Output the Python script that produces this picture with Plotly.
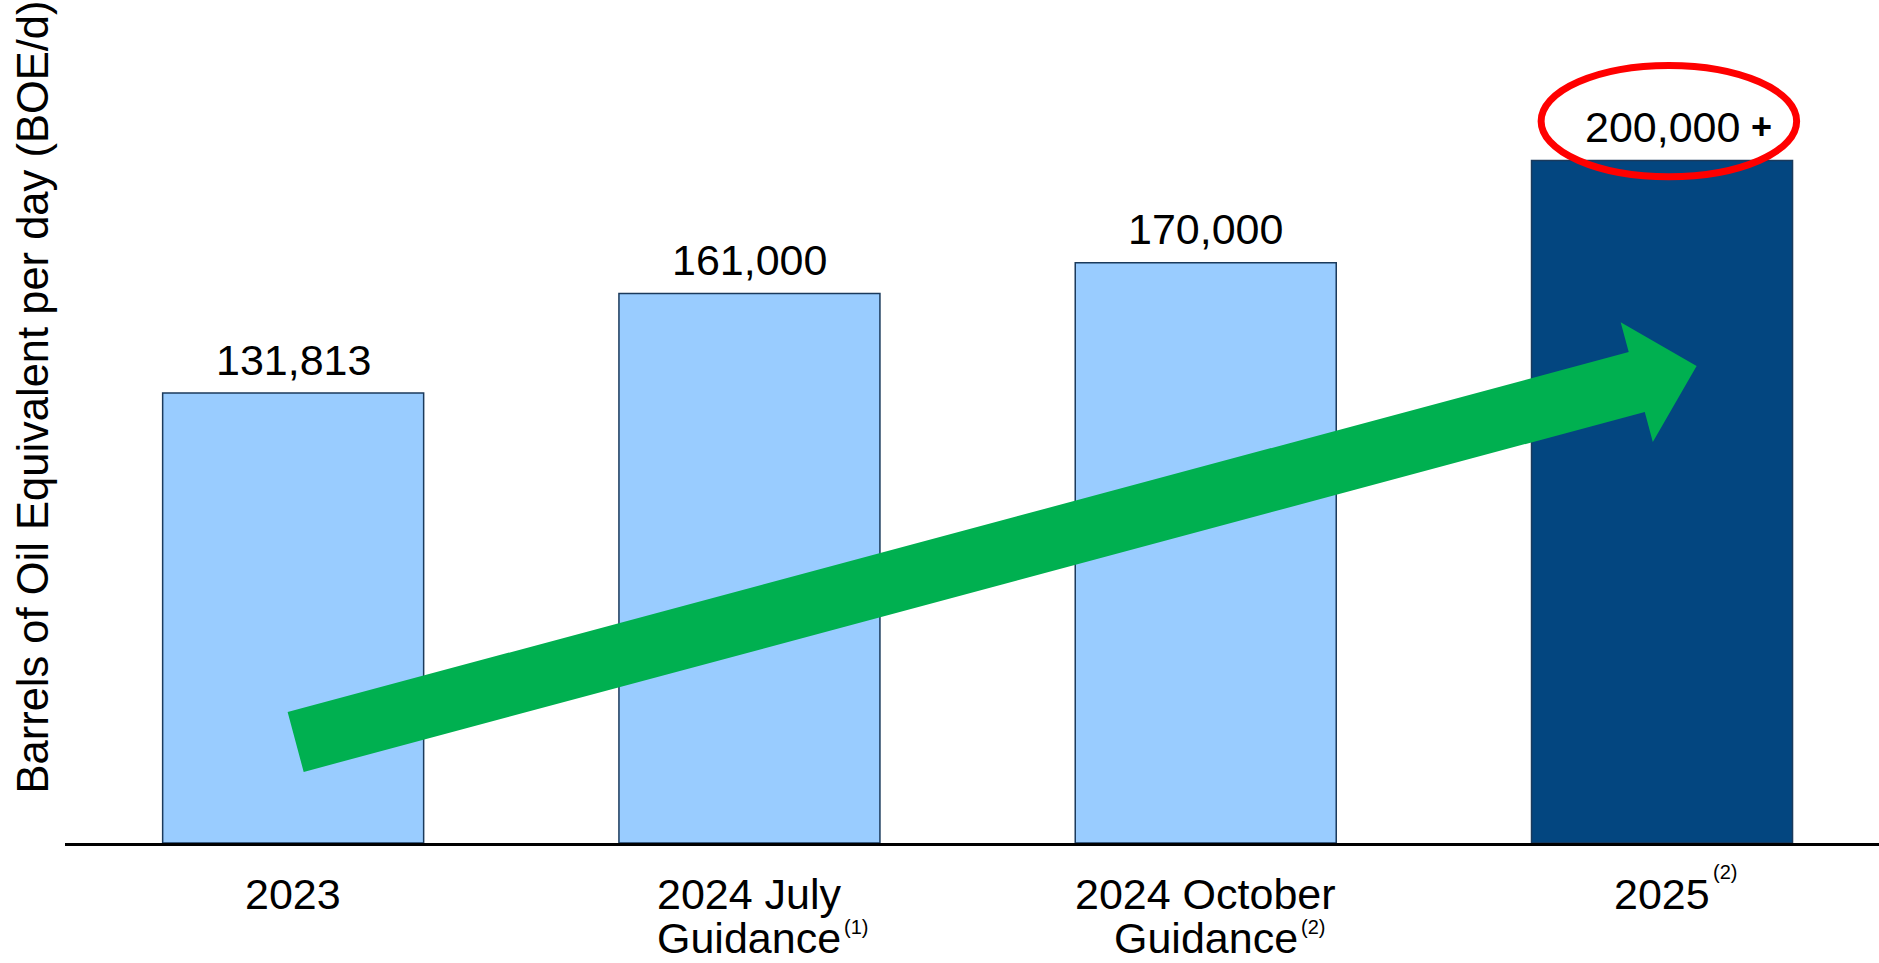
import math
import plotly.graph_objects as go

# ---------------- data ----------------
categories = ["2023", "2024 July Guidance", "2024 October Guidance", "2025"]
values = [131813, 161000, 170000, 200000]
value_labels = ["131,813", "161,000", "170,000", "200,000"]
value_suffix = ["", "", "", "+"]
label_line1 = ["2023", "2024 July", "2024 October", "2025"]
label_line2 = ["", "Guidance", "Guidance", ""]
footnotes = ["", "(1)", "(2)", "(2)"]
y_title = "Barrels of Oil Equivalent per day (BOE/d)"

# ---------------- style / layout ----------------
bar_colors = ["#99CCFF", "#99CCFF", "#99CCFF", "#034680"]
bar_line = "#1B3A5C"
arrow_color = "#00B050"
ring_color = "#FF0000"
FONT = "Liberation Sans, Arial, sans-serif"
FS = 43

W, H = 1879, 963
ML, MR, MT, MB = 65, 0, 58, 120
Y_MAX = 230000
X_MIN, X_MAX = -0.5, 3.4755
BAR_W = 0.572

plot_w = W - ML - MR
plot_h = H - MT - MB
px_per_x = plot_w / (X_MAX - X_MIN)
px_per_y = plot_h / Y_MAX

x = list(range(len(categories)))

# Liberation Sans (Arial metric) advance widths, em units
_W = {"0": .556, "1": .556, "2": .556, "3": .556, "4": .556, "5": .556, "6": .556,
      "7": .556, "8": .556, "9": .556, ",": .278, " ": .278, "J": .5, "u": .556,
      "l": .222, "y": .5, "O": .778, "c": .5, "t": .278, "o": .556, "b": .556,
      "e": .556, "r": .333, "G": .778, "i": .222, "d": .556, "a": .556, "n": .556}


def text_w(s, size):
    return sum(_W.get(ch, .556) for ch in s) * size


def d2p(xd, yd):
    return ML + (xd - X_MIN) * px_per_x, MT + plot_h - yd * px_per_y


def p2d(px, py):
    return X_MIN + (px - ML) / px_per_x, (MT + plot_h - py) / px_per_y


fig = go.Figure()
fig.add_trace(go.Bar(
    x=x, y=values, width=BAR_W,
    marker=dict(color=bar_colors, line=dict(color=bar_line, width=1.5)),
    hoverinfo="skip",
))

ann = []
# value labels
for i, v in enumerate(values):
    ann.append(dict(x=x[i], y=v, xref="x", yref="y", text=value_labels[i],
                    showarrow=False, yanchor="middle", xanchor="center", yshift=33.5,
                    font=dict(family=FONT, size=FS, color="black")))
    if value_suffix[i]:
        ann.append(dict(x=x[i], y=v, xref="x", yref="y",
                        text="<b>" + value_suffix[i] + "</b>",
                        showarrow=False, yanchor="middle", xanchor="left",
                        xshift=text_w(value_labels[i], FS) / 2 + 9, yshift=33.5,
                        font=dict(family=FONT, size=36, color="black")))

# category labels
for i in x:
    ann.append(dict(x=i, y=0, xref="x", yref="y", text=label_line1[i], showarrow=False,
                    yanchor="middle", xanchor="center", yshift=-51,
                    borderpad=0, borderwidth=0,
                    font=dict(family=FONT, size=FS, color="black")))
    if label_line2[i]:
        ann.append(dict(x=i, y=0, xref="x", yref="y", text=label_line2[i], showarrow=False,
                        yanchor="middle", xanchor="center", yshift=-95,
                        borderpad=0, borderwidth=0,
                        font=dict(family=FONT, size=FS, color="black")))
    if footnotes[i]:
        last = label_line2[i] if label_line2[i] else label_line1[i]
        ys = -84 if label_line2[i] else -28.5
        ann.append(dict(x=i, y=0, xref="x", yref="y", text=footnotes[i], showarrow=False,
                        yanchor="middle", xanchor="left",
                        xshift=text_w(last, FS) / 2 + 1, yshift=ys,
                        font=dict(family=FONT, size=20, color="black")))

# y-axis title
ann.append(dict(x=0, y=(plot_h - (397 - MT)) / plot_h, xref="paper", yref="paper",
                text=y_title, textangle=-90, showarrow=False, xanchor="center",
                yanchor="middle", xshift=-32.5,
                font=dict(family=FONT, size=43.5, color="black")))

# ---------------- green trend arrow ----------------
tail = (0.0055, 29600)    # data coords
tip = (3.0758, 139760)
SHAFT_HALF, HEAD_HALF, HEAD_LEN = 31, 62, 62   # px
tx, ty = d2p(*tail)
hx, hy = d2p(*tip)
L = math.hypot(hx - tx, hy - ty)
ux, uy = (hx - tx) / L, (hy - ty) / L
nx, ny = -uy, ux
bx, by = hx - ux * HEAD_LEN, hy - uy * HEAD_LEN
pts_px = [
    (tx + nx * SHAFT_HALF, ty + ny * SHAFT_HALF),
    (bx + nx * SHAFT_HALF, by + ny * SHAFT_HALF),
    (bx + nx * HEAD_HALF, by + ny * HEAD_HALF),
    (hx, hy),
    (bx - nx * HEAD_HALF, by - ny * HEAD_HALF),
    (bx - nx * SHAFT_HALF, by - ny * SHAFT_HALF),
    (tx - nx * SHAFT_HALF, ty - ny * SHAFT_HALF),
]
pts = [p2d(px, py) for px, py in pts_px]
path = "M " + " L ".join(f"{a:.5f},{b:.2f}" for a, b in pts) + " Z"

shapes = [
    dict(type="path", path=path, xref="x", yref="y", fillcolor=arrow_color,
         line=dict(width=0), layer="above"),
    dict(type="circle", xref="x", yref="y",
         x0=x[3] - 0.265, x1=x[3] + 0.295,
         y0=values[3] * 0.976, y1=values[3] * 1.139,
         line=dict(color=ring_color, width=7), fillcolor="rgba(0,0,0,0)", layer="above"),
]

fig.update_layout(
    width=W, height=H, autosize=False,
    margin=dict(l=ML, r=MR, t=MT, b=MB, pad=0),
    paper_bgcolor="white", plot_bgcolor="white",
    showlegend=False,
    annotations=ann, shapes=shapes,
    xaxis=dict(range=[X_MIN, X_MAX], showgrid=False, zeroline=False,
               showticklabels=False, ticks="", showline=True,
               linecolor="black", linewidth=3, fixedrange=True),
    yaxis=dict(range=[0, Y_MAX], showgrid=False, zeroline=False,
               showticklabels=False, ticks="", showline=False, fixedrange=True),
    font=dict(family=FONT, size=FS, color="black"),
)

fig.write_html("out.html", config={"displayModeBar": False},
               post_script="document.body.style.margin='0';document.body.style.overflow='hidden';")
